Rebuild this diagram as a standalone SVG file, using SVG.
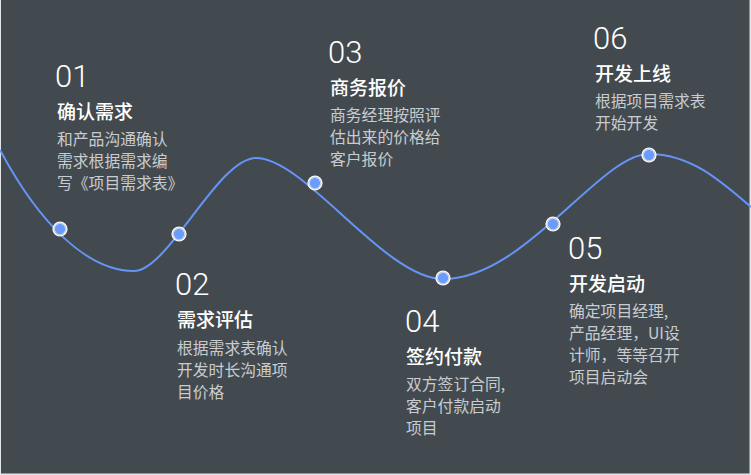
<svg xmlns="http://www.w3.org/2000/svg" width="751" height="475" viewBox="0 0 751 475">
<style>
.num{font-family:Roboto,"Liberation Sans",sans-serif;font-weight:300;font-size:31px;fill:#ffffff}
.ttl{font-family:"Noto Sans CJK SC",sans-serif;font-weight:500;font-size:19px;fill:#ffffff}
.dsc{font-family:"Noto Sans CJK SC",sans-serif;font-weight:400;font-size:15.8px;fill:#c9cccf}
.curve{fill:none;stroke:#6494f5;stroke-width:2}
.ring{fill:#ffffff}
.gap{fill:none;stroke:#a9b3c2;stroke-width:0.8}
.core{fill:#6a9cff}
</style>
<defs>
<g id="dot">
<circle class="ring" r="7.6"/>
<circle class="gap" r="6"/>
<circle class="core" r="5.2"/>
</g>
</defs>
<rect x="0" y="0" width="751" height="475" fill="#e2e6ea"/>
<rect x="1" y="0" width="748.5" height="473.5" fill="#434a4f"/>
<g id="connectors">
<path class="curve" d="M0,150 C40,225 88,271 134,271 C168,271 218,158 256,158 C305,158 385,279 443,279 C525,279 600,154 649,154 C690,154 720,180 751,207"/>
</g>
<g id="node-01">
<use href="#dot" x="60" y="229"/>
<text class="num" x="55" y="87">01</text>
<text class="ttl" x="57" y="119">确认需求</text>
<text class="dsc" x="57" y="145">和产品沟通确认</text>
<text class="dsc" x="57" y="167">需求根据需求编</text>
<text class="dsc" x="57" y="189">写《项目需求表》</text>
</g>
<g id="node-02">
<use href="#dot" x="179" y="234"/>
<text class="num" x="175" y="295">02</text>
<text class="ttl" x="177" y="327">需求评估</text>
<text class="dsc" x="177" y="354">根据需求表确认</text>
<text class="dsc" x="177" y="376">开发时长沟通项</text>
<text class="dsc" x="177" y="398">目价格</text>
</g>
<g id="node-03">
<use href="#dot" x="315" y="183"/>
<text class="num" x="328" y="63">03</text>
<text class="ttl" x="330" y="95">商务报价</text>
<text class="dsc" x="330" y="121">商务经理按照评</text>
<text class="dsc" x="330" y="143">估出来的价格给</text>
<text class="dsc" x="330" y="165">客户报价</text>
</g>
<g id="node-04">
<use href="#dot" x="443" y="278"/>
<text class="num" x="405" y="332">04</text>
<text class="ttl" x="406" y="364">签约付款</text>
<text class="dsc" x="406" y="390">双方签订合同,</text>
<text class="dsc" x="406" y="412">客户付款启动</text>
<text class="dsc" x="406" y="434">项目</text>
</g>
<g id="node-05">
<use href="#dot" x="553" y="224"/>
<text class="num" x="568" y="259">05</text>
<text class="ttl" x="569" y="291">开发启动</text>
<text class="dsc" x="569" y="317">确定项目经理,</text>
<text class="dsc" x="569" y="339">产品经理，UI设</text>
<text class="dsc" x="569" y="361">计师，等等召开</text>
<text class="dsc" x="569" y="383">项目启动会</text>
</g>
<g id="node-06">
<use href="#dot" x="649" y="155"/>
<text class="num" x="593" y="49">06</text>
<text class="ttl" x="595" y="81">开发上线</text>
<text class="dsc" x="595" y="107">根据项目需求表</text>
<text class="dsc" x="595" y="129">开始开发</text>
</g>
</svg>
